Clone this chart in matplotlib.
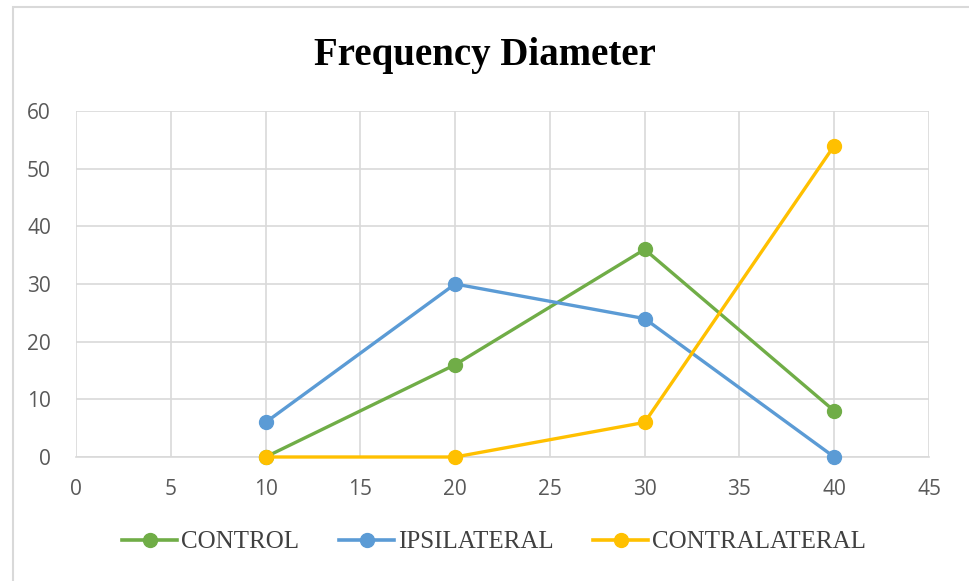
import matplotlib
matplotlib.use("Agg")
import matplotlib.pyplot as plt
from matplotlib.patches import Rectangle
from matplotlib.lines import Line2D

x_values = [10, 20, 30, 40]
control = [0, 16, 36, 8]
ipsilateral = [6, 30, 24, 0]
contralateral = [0, 0, 6, 54]
series_names = ["CONTROL", "IPSILATERAL", "CONTRALATERAL"]
colors = ["#70AD47", "#5B9BD5", "#FFC000"]
title = "Frequency Diameter"

fig = plt.figure(figsize=(9.69, 5.81), dpi=100)
fig.patches.append(Rectangle((13/969, -0.1), 1.2, 1 - 7/581 + 0.1, transform=fig.transFigure,
                             fill=False, edgecolor="#d9d9d9", linewidth=1.5))
ax = fig.add_axes([76/969, 1 - 457/581, (929 - 76)/969, (457 - 111)/581])

for vals, name, c in zip([control, ipsilateral, contralateral], series_names, colors):
    ax.plot(x_values, vals, color=c, linewidth=2.4, marker="o", markersize=10,
            label=name, clip_on=False, zorder=3)

ax.set_xlim(0, 45)
ax.set_ylim(0, 60)
ax.set_xticks(range(0, 46, 5))
ax.set_yticks(range(0, 61, 10))
ax.grid(True, color="#d9d9d9", linewidth=1.2)
ax.set_axisbelow(True)
for s in ["top", "right", "left"]:
    ax.spines[s].set_visible(False)
ax.spines["bottom"].set_color("#d9d9d9")
ax.spines["bottom"].set_linewidth(1.2)
ax.tick_params(axis="y", length=0, labelsize=15, labelcolor="#595959", pad=18)
ax.tick_params(axis="x", length=0, labelsize=15, labelcolor="#595959", pad=16)
for lbl in ax.get_xticklabels() + ax.get_yticklabels():
    lbl.set_family("Open Sans")

fig.text(0.5, 1 - 56/581, title, ha="center", va="center", fontsize=28,
         fontweight="bold", family="Liberation Serif")

handles = [Line2D([0], [0], color=c, linewidth=2.6, marker="o", markersize=10) for c in colors]
fig.legend(handles, series_names, loc="center", bbox_to_anchor=(0.51, 1 - 542/581), ncol=3,
           frameon=False, prop={"family": "Liberation Serif", "size": 18},
           handlelength=2.2, handletextpad=0.15, columnspacing=1.6, labelcolor="#404040")

fig.savefig("out.png", dpi=100)
